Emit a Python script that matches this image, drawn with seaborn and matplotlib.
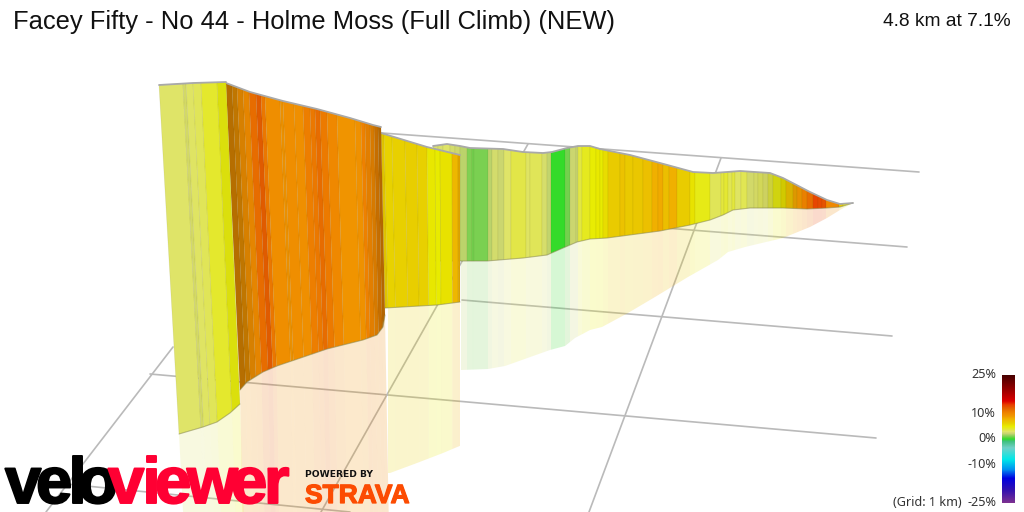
import numpy as np
import pandas as pd
import seaborn as sns
import matplotlib.pyplot as plt
import matplotlib.patheffects as pe
from matplotlib.colors import LinearSegmentedColormap

# Цветовая шкала уклона
scale_pct = [-25, -20, -15.5, -12, -8, -3.5, -1, 0, 1, 2.2, 3, 4, 5, 6.2, 8, 9, 10.5, 12, 13.5, 15, 20, 25]
scale_col = ['#7b3090', '#3010b0', '#0000e0', '#0090f0', '#00e8e8', '#70d0c8', '#40c080', '#30dc28',
             '#78d050', '#c8d470', '#dfe468', '#e4e830', '#e8ec00', '#e8d000', '#f0b000', '#f09800',
             '#ee8000', '#e46400', '#e84000', '#dc0000', '#900000', '#480000']
legend_ticks = [25, 10, 0, -10, -25]

# Сетка
grid_x0 = [382, 919, 864, 500, 907, 462, 892, 150, 876, 66, 350, 173, 46, 528, 321, 721, 589]
grid_y0 = [133, 172, 512, 215, 247, 300, 336, 374, 438, 484, 512, 347, 512, 144, 512, 158, 512]
grid_id = [0, 0, 1, 2, 2, 3, 3, 4, 4, 5, 5, 6, 6, 7, 7, 8, 8]

# Участок 1
s1_top_x = [159, 193, 226]
s1_top_y = [85, 83, 82]
s1_base_x = [179, 203, 217, 230, 240]
s1_base_y = [434, 427, 422, 413, 404]
s1_refl_x = [184, 244]
s1_refl_y = [530, 530]
s1_edges = [159, 183, 186, 193, 201, 217, 226]
s1_grad = [3.0, 2.9, 3.1, 3.3, 4.1, 4.7]
s1_dark = [0, .04, 0, 0, 0, .05]

# Участок 2
s2_top_x = [226, 250, 283, 317, 350, 373, 381]
s2_top_y = [83, 92, 101, 109, 118, 125, 127]
s2_base_x = [240, 247, 263, 277, 327, 363, 377, 383, 385]
s2_base_y = [390, 382, 372, 366, 349, 340, 335, 327, 315]
s2_refl_x = [243, 389]
s2_refl_y = [530, 530]
s2_edges = [226, 232, 237, 243, 249, 256, 261, 265, 280, 283, 294, 303, 310, 315, 320, 327, 337, 355, 361, 365, 370, 374, 378, 381]
s2_grad = [9.4, 9.2, 9.6, 9.8, 11.6, 12.3, 11.0, 9.6, 9.3, 9.6, 9.5, 10.6, 10.9, 11.6, 10.8, 10.0, 9.2, 9.4, 10.4, 10.2, 10.0, 10.2, 10.0]
s2_dark = [.24, .2, .1, .04, 0, .02, 0, 0, .02, 0, 0, 0, 0, 0, 0, 0, 0, 0, 0, .05, .1, .17, .24]

# Участок 3
s3_top_x = [381, 427, 460]
s3_top_y = [133, 147, 155]
s3_base_x = [385, 437, 460]
s3_base_y = [308, 305, 302]
s3_refl_x = [390, 417, 443, 462]
s3_refl_y = [473, 463, 453, 445]
s3_edges = [381, 384, 392, 405, 417, 427, 435, 440, 452, 458, 460]
s3_grad = [6.4, 6.1, 6.2, 6.3, 6.2, 5.2, 5.0, 5.4, 7.6, 8.0]
s3_dark = [.04, 0, 0, 0, 0, 0, 0, 0, 0, .06]

# Участок 4
s4_top_x = [433, 447, 460, 470, 503, 523, 543, 552, 567, 578, 590, 600, 630, 660, 693, 713, 727, 740, 770, 783, 810, 827, 840, 853]
s4_top_y = [146, 144, 146, 148, 149, 152, 153, 152, 148, 146, 146, 149, 155, 163, 172, 173, 172, 171, 173, 178, 192, 200, 204, 203]
s4_base_x = [433, 460, 487, 523, 547, 563, 577, 590, 607, 660, 690, 710, 723, 733, 750, 783, 807, 827, 840, 853]
s4_base_y = [261, 261, 261, 258, 255, 248, 242, 239, 238, 231, 225, 220, 215, 210, 208, 208, 209, 208, 207, 203]
s4_refl_x = [461, 488, 505, 550, 565, 575, 590, 602, 628, 655, 688, 718, 728, 745, 783, 810, 827, 840, 853]
s4_refl_y = [370, 369, 366, 350, 346, 338, 330, 327, 313, 297, 277, 260, 252, 247, 238, 227, 218, 210, 203]
s4_edges = [433, 438, 443, 450, 455, 460, 467, 472, 474, 488, 492, 498, 504, 511, 526, 530, 542, 547, 551, 565, 570, 576, 578,
            582, 590, 596, 600, 603, 608, 620, 625, 633, 643, 652, 658, 663, 669, 677, 690, 695, 710, 721, 724, 728, 732, 735,
            741, 747, 754, 758, 763, 768, 773, 781, 786, 793, 797, 802, 807, 813, 818, 822, 826, 839, 843, 853]
s4_grad = [3.0, 2.8, 3.0, 2.6, 2.4, 2.0, 1.1, 0.9, 1.05, 2.0, 2.6, 2.3, 3.0, 3.6, 3.1, 3.3, 2.7, 2.1, 0.0, 0.9, 2.3, 2.2,
           3.7, 4.3, 4.9, 5.1, 5.0, 5.6, 6.5, 7.0, 6.6, 6.7, 7.1, 8.0, 8.3, 7.2, 8.0, 6.4, 5.4, 4.5, 3.3, 3.8, 4.0, 3.4, 3.8,
           3.1, 3.4, 2.7, 3.0, 3.2, 3.0, 3.7, 4.6, 5.5, 7.0, 8.4, 9.0, 10.3, 11.5, 13.2, 13.0, 12.7, 10.0, 6.5, 5.0]
s4_dark = [0] * 47 + [.02, .05, .06, .08, .1, .1, .1, .08, .08, .04, .02, 0, 0, 0, 0, 0, 0, 0]

# Логотип
logo_chars = list('veloviewer')
logo_x = [5, 36, 68, 78, 108, 142, 155, 187, 231, 264]

sns.set_theme(style='white')
plt.rcParams['font.family'] = ['Liberation Sans', 'DejaVu Sans']

cmap = LinearSegmentedColormap.from_list(
    'grad', [((p + 25) / 50, c) for p, c in zip(scale_pct, scale_col)], N=512)


def grad_color(g, dark=0.0):
    r = np.array(cmap((g + 25) / 50)[:3])
    return tuple(r * (1 - dark))


def piece(xs, ys, a, b):
    inner = [x for x in xs if a < x < b]
    px = [a] + inner + [b]
    return px, list(np.interp(px, xs, ys))


def draw_section(ax, top_x, top_y, base_x, base_y, edges, grad, dark, z):
    lo, hi = edges[0], edges[-1]
    for i in range(len(grad)):
        a, b = edges[i], edges[i + 1]
        ba = np.interp(a, [lo, hi], [base_x[0], base_x[-1]])
        bb = np.interp(b, [lo, hi], [base_x[0], base_x[-1]])
        tx, ty = piece(top_x, top_y, a, b)
        bx, by = piece(base_x, base_y, ba, bb)
        ax.fill(tx + bx[::-1], ty + by[::-1], facecolor=grad_color(grad[i], dark[i]),
                edgecolor=(0.3, 0.3, 0.1, 0.1), lw=0.5, zorder=z)
    base = pd.DataFrame({'x': base_x, 'y': base_y})
    sns.lineplot(data=base, x='x', y='y', estimator=None, sort=False, color='#8a8a50',
                 alpha=0.5, lw=0.8, ax=ax, zorder=z + 0.1)
    ridge = pd.DataFrame({'x': top_x, 'y': top_y})
    sns.lineplot(data=ridge, x='x', y='y', estimator=None, sort=False, color='#a9a9a9',
                 lw=1.3, ax=ax, zorder=z + 0.2)


def draw_reflection(ax, base_x, base_y, refl_x, refl_y, edges, grad, x_min=0):
    lo, hi = edges[0], edges[-1]
    for i in range(len(grad)):
        ba = np.interp(edges[i], [lo, hi], [base_x[0], base_x[-1]])
        bb = np.interp(edges[i + 1], [lo, hi], [base_x[0], base_x[-1]])
        if bb <= x_min:
            continue
        ba = max(ba, x_min)
        # нижний край отражения смещён так же, как основание стенки
        ra = np.interp(ba, [base_x[0], base_x[-1]], [refl_x[0], refl_x[-1]]) if len(refl_x) == 2 else ba
        rb = np.interp(bb, [base_x[0], base_x[-1]], [refl_x[0], refl_x[-1]]) if len(refl_x) == 2 else bb
        bx, by = piece(base_x, base_y, ba, bb)
        rx, ry = piece(refl_x, refl_y, ra, rb)
        ax.fill(bx + rx[::-1], by + ry[::-1], facecolor=grad_color(grad[i]) + (0.2,),
                edgecolor='none', lw=0, zorder=2)


fig = plt.figure(figsize=(10.24, 5.12), dpi=100)
ax = fig.add_axes([0, 0, 1, 1])

grid_df = pd.DataFrame({'x': grid_x0, 'y': grid_y0, 'line': grid_id})
sns.lineplot(data=grid_df, x='x', y='y', units='line', estimator=None, sort=False,
             color='#bababa', lw=1.2, ax=ax, zorder=1)

draw_reflection(ax, s1_base_x, s1_base_y, s1_refl_x, s1_refl_y, s1_edges, s1_grad)
draw_reflection(ax, s2_base_x, s2_base_y, s2_refl_x, s2_refl_y, s2_edges, s2_grad)
draw_reflection(ax, s3_base_x, s3_base_y, s3_refl_x, s3_refl_y, s3_edges, s3_grad, x_min=388)
draw_reflection(ax, s4_base_x, s4_base_y, s4_refl_x, s4_refl_y, s4_edges, s4_grad, x_min=461)

draw_section(ax, s4_top_x, s4_top_y, s4_base_x, s4_base_y, s4_edges, s4_grad, s4_dark, 3)
draw_section(ax, s3_top_x, s3_top_y, s3_base_x, s3_base_y, s3_edges, s3_grad, s3_dark, 4)
draw_section(ax, s2_top_x, s2_top_y, s2_base_x, s2_base_y, s2_edges, s2_grad, s2_dark, 5)
draw_section(ax, s1_top_x, s1_top_y, s1_base_x, s1_base_y, s1_edges, s1_grad, s1_dark, 6)

ax.set_xlim(0, 1024)
ax.set_ylim(512, 0)
ax.axis('off')

ax.text(13, 29, 'Facey Fifty - No 44 - Holme Moss (Full Climb) (NEW)', fontsize=18.4, color='#111111',
        family='Liberation Sans', zorder=10)
ax.text(1011, 26, '4.8 km at 7.1%', fontsize=13.8, color='#111111', ha='right',
        family='Liberation Sans', zorder=10)

# логотипы
for i, (ch, x) in enumerate(zip(logo_chars, logo_x)):
    col = 'black' if i < 4 else '#ff0033'
    ax.text(x, 503, ch, fontsize=47, family='Liberation Sans', weight='bold', color=col, zorder=11,
            path_effects=[pe.withStroke(linewidth=1.4, foreground=col)])
ax.text(305, 477, 'POWERED BY', fontsize=6.6, family='DejaVu Sans', weight='bold', color='#111111', zorder=11)
ax.text(305, 503, 'STRAVA', fontsize=19, family='Liberation Sans', weight='bold', color='#fc4c02', zorder=11,
        path_effects=[pe.withStroke(linewidth=0.9, foreground='#fc4c02')])

# легенда
cax = fig.add_axes([1002 / 1024, 1 - 503 / 512, 13 / 1024, 128 / 512])
bar = pd.DataFrame(np.linspace(25, -25, 128).reshape(-1, 1))
sns.heatmap(bar, cmap=cmap, vmin=-25, vmax=25, cbar=False, xticklabels=False, yticklabels=False, ax=cax)
cax.set_axis_off()
for p in legend_ticks:
    ax.text(996, 375 + (25 - p) * 2.55, '%d%%' % p, fontsize=9.1, family='Noto Sans', color='#333333',
            ha='right', va='center', zorder=10)
ax.text(962, 502.5, '(Grid: 1 km)', fontsize=9.1, family='Noto Sans', color='#333333', ha='right', va='center', zorder=10)

fig.savefig('out.png', dpi=100)
